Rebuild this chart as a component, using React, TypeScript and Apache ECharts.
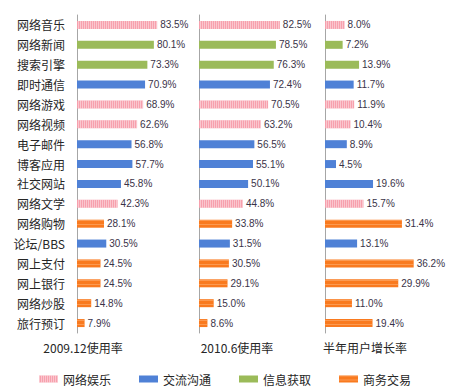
import React, { useEffect, useRef } from "react";
import * as echarts from "echarts";

const categories = ["网络音乐", "网络新闻", "搜索引擎", "即时通信", "网络游戏", "网络视频", "电子邮件", "博客应用", "社交网站", "网络文学", "网络购物", "论坛/BBS", "网上支付", "网上银行", "网络炒股", "旅行预订"];
// 0 网络娱乐, 1 交流沟通, 2 信息获取, 3 商务交易
const groupOfCategory = [0, 2, 2, 1, 0, 0, 1, 1, 1, 0, 3, 1, 3, 3, 3, 3];
const groupNames = ["网络娱乐", "交流沟通", "信息获取", "商务交易"];
const usage200912 = [83.5, 80.1, 73.3, 70.9, 68.9, 62.6, 56.8, 57.7, 45.8, 42.3, 28.1, 30.5, 24.5, 24.5, 14.8, 7.9];
const usage20106 = [82.5, 78.5, 76.3, 72.4, 70.5, 63.2, 56.5, 55.1, 50.1, 44.8, 33.8, 31.5, 30.5, 29.1, 15.0, 8.6];
const growthRate = [8.0, 7.2, 13.9, 11.7, 11.9, 10.4, 8.9, 4.5, 19.6, 15.7, 31.4, 13.1, 36.2, 29.9, 11.0, 19.4];
const panelTitles = ["2009.12使用率", "2010.6使用率", "半年用户增长率"];
const panelMax = [100, 100, 40];

const FONT = "'Noto Sans CJK SC', 'Noto Sans', sans-serif";

const groupStyles: any[] = [
  {
    color: "#f7a0ad",
    decal: { symbol: "rect", symbolSize: 1, color: "rgba(255,255,255,0.4)", dashArrayX: [1, 1], dashArrayY: [4, 0], rotation: 0 },
  },
  { color: "#4f81d6" },
  { color: "#9bbb59" },
  {
    color: "#f97a1f",
    decal: { symbol: "rect", symbolSize: 1, color: "rgba(255,190,140,0.45)", dashArrayX: [4, 0], dashArrayY: [1, 3], rotation: 0 },
  },
];

const panelData = [usage200912, usage20106, growthRate];
const gridLefts = [77, 199, 325];
const gridWidths = [96, 98, 98];
const titleX = [83, 237, 365];

export default function App() {
  const ref = useRef<HTMLDivElement>(null);
  useEffect(() => {
    if (!ref.current) return;
    const chart = echarts.init(ref.current, null, { renderer: "svg" });
    const grids = gridLefts.map((l, i) => ({ left: l, width: gridWidths[i], top: 15, height: 318 }));
    const xAxes = panelMax.map((m, i) => ({ type: "value", gridIndex: i, min: 0, max: m, show: false }));
    const yAxes = [0, 1, 2].map((i) => ({
      type: "category",
      gridIndex: i,
      inverse: true,
      data: categories,
      axisLine: { show: true, lineStyle: { color: "#a6a6a6", width: 1 } },
      axisTick: { show: false },
      axisLabel: { show: i === 0, margin: 12, fontSize: 12, color: "#262626", fontFamily: FONT },
    }));
    const series: any[] = [];
    panelData.forEach((vals, p) => {
      groupNames.forEach((name, g) => {
        series.push({
          type: "bar",
          name,
          xAxisIndex: p,
          yAxisIndex: p,
          stack: "p" + p,
          barWidth: 8,
          itemStyle: groupStyles[g],
          data: vals.map((v, i) => (groupOfCategory[i] === g ? v : "-")),
          label: {
            show: true,
            position: "right",
            distance: 3,
            fontSize: 10,
            color: "#3a3348",
            fontFamily: "'Liberation Sans', sans-serif",
            formatter: (d: any) => Number(d.value).toFixed(1) + "%",
          },
        });
      });
    });
    chart.setOption({
      animation: false,
      backgroundColor: "#ffffff",
      grid: grids,
      xAxis: xAxes,
      yAxis: yAxes,
      legend: {
        data: groupNames,
        top: 368,
        left: "center",
        icon: "rect",
        itemWidth: 19,
        itemHeight: 7,
        itemGap: 28,
        textStyle: { fontSize: 12, color: "#262626", fontFamily: FONT },
      },
      graphic: panelTitles.map((t, i) => ({
        type: "text",
        x: titleX[i],
        y: 347,
        style: { text: t, textAlign: "center", textVerticalAlign: "middle", fontSize: 12, fill: "#262626", fontFamily: FONT },
      })),
      series,
    });
    return () => chart.dispose();
  }, []);
  return <div ref={ref} style={{ position: "fixed", left: 0, top: 0, width: 450, height: 391 }} />;
}
